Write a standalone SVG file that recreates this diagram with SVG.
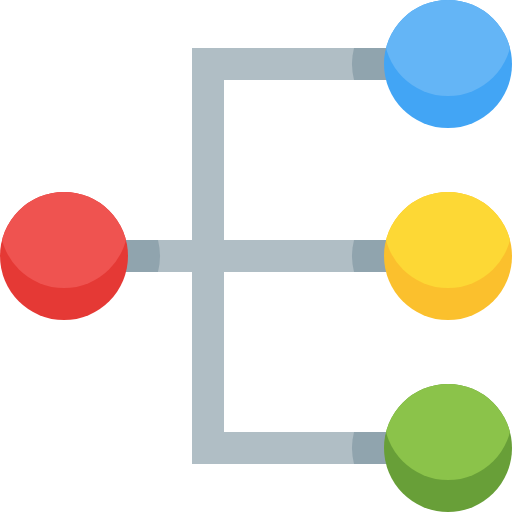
<svg xmlns="http://www.w3.org/2000/svg" width="512" height="512" viewBox="0 0 512 512">
<style>
.pipe{fill:#B0BEC5}
.shade{fill:#90A4AE}
</style>
<defs>
<clipPath id="cr"><circle cx="64" cy="256" r="64"/></clipPath>
<clipPath id="cb"><circle cx="448" cy="64" r="64"/></clipPath>
<clipPath id="cy"><circle cx="448" cy="256" r="64"/></clipPath>
<clipPath id="cg"><circle cx="448" cy="448" r="64"/></clipPath>
</defs>
<g id="connectors">
<rect class="pipe" x="192" y="48" width="32" height="416"/>
<rect class="pipe" x="192" y="48" width="224" height="32"/>
<rect class="pipe" x="100" y="240" width="316" height="32"/>
<rect class="pipe" x="192" y="432" width="224" height="32"/>
<path class="shade" d="M100,240 L157.97,240 A64,64 0 0 1 157.97,272 L100,272 Z"/>
<path class="shade" d="M416,48 L354.03,48 A64,64 0 0 0 354.03,80 L416,80 Z"/>
<path class="shade" d="M416,240 L354.03,240 A64,64 0 0 0 354.03,272 L416,272 Z"/>
<path class="shade" d="M416,432 L354.03,432 A64,64 0 0 0 354.03,464 L416,464 Z"/>
</g>
<g id="red">
<circle cx="64" cy="256" r="64" fill="#E53935"/>
<circle cx="64" cy="224" r="64" fill="#EF5350" clip-path="url(#cr)"/>
</g>
<g id="blue">
<circle cx="448" cy="64" r="64" fill="#42A5F5"/>
<circle cx="448" cy="32" r="64" fill="#64B5F6" clip-path="url(#cb)"/>
</g>
<g id="yellow">
<circle cx="448" cy="256" r="64" fill="#FBC02D"/>
<circle cx="448" cy="224" r="64" fill="#FDD835" clip-path="url(#cy)"/>
</g>
<g id="green">
<circle cx="448" cy="448" r="64" fill="#689F38"/>
<circle cx="448" cy="416" r="64" fill="#8BC34A" clip-path="url(#cg)"/>
</g>
</svg>
